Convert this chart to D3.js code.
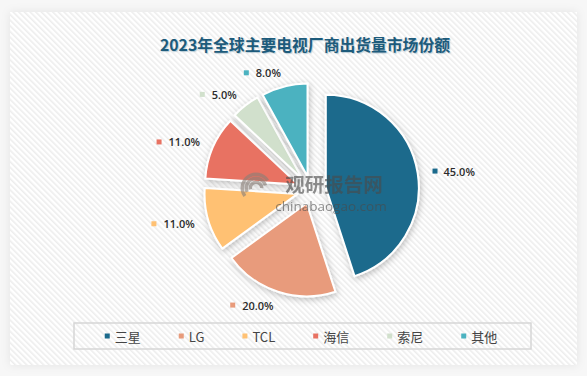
<!DOCTYPE html>
<html>
<head>
<meta charset="utf-8">
<script src="https://cdn.jsdelivr.net/npm/d3@7"></script>
<style>
  html, body { margin: 0; padding: 0; background: #f7f7f7; }
  svg { display: block; }
</style>
</head>
<body>
<svg id="chart" width="587" height="376"></svg>
<script>
// ---- data ----
const titleText = "2023年全球主要电视厂商出货量市场份额";
const categories = ["三星", "LG", "TCL", "海信", "索尼", "其他"];
const shares = [45.0, 20.0, 11.0, 11.0, 5.0, 8.0];
const colors = ["#1b6a8c", "#e89b7b", "#ffc173", "#e87262", "#d1e0cc", "#4bb2c0"];

const W = 587, H = 376;
const svg = d3.select("#chart");
const defs = svg.append("defs");

// striped background pattern
const pat = defs.append("pattern").attr("id", "stripes")
  .attr("width", 4).attr("height", 4)
  .attr("patternUnits", "userSpaceOnUse")
  .attr("patternTransform", "rotate(-45)");
pat.append("rect").attr("width", 4).attr("height", 4).attr("fill", "#ffffff");
pat.append("rect").attr("x", 0).attr("y", 0).attr("width", 1.6).attr("height", 4).attr("fill", "#ededed");

const fPanel = defs.append("filter").attr("id", "panelShadow")
  .attr("x", "-5%").attr("y", "-5%").attr("width", "110%").attr("height", "110%");
fPanel.append("feDropShadow").attr("dx", 0).attr("dy", 0).attr("stdDeviation", 5)
  .attr("flood-color", "#000").attr("flood-opacity", 0.08);

const fSlice = defs.append("filter").attr("id", "sliceShadow")
  .attr("x", "-30%").attr("y", "-30%").attr("width", "160%").attr("height", "160%");
fSlice.append("feDropShadow").attr("dx", 1).attr("dy", 2).attr("stdDeviation", 3)
  .attr("flood-color", "#000").attr("flood-opacity", 0.25);

// panel
svg.append("rect").attr("x", 10).attr("y", 12).attr("width", 567).attr("height", 353)
  .attr("fill", "url(#stripes)").attr("filter", "url(#panelShadow)");

// title
svg.append("text")
  .attr("x", 305).attr("y", 44)
  .attr("text-anchor", "middle").attr("dominant-baseline", "central")
  .attr("font-family", "'Noto Sans CJK SC', sans-serif")
  .attr("font-weight", "bold").attr("font-size", 15.8)
  .attr("fill", "#1d5b7b")
  .style("text-shadow", "1px 1px 1px rgba(120,160,180,0.5)")
  .text(titleText);

// pie
const cx = 311, cy = 190, R = 93;
const data = categories.map((c, i) => ({ name: c, value: shares[i], color: colors[i], i }));
const pie = d3.pie().sort(null).value(d => d.value).startAngle(0).endAngle(2 * Math.PI);
const arcs = pie(data);
const arcGen = d3.arc().innerRadius(0).outerRadius(R);

const gPie = svg.append("g");
arcs.forEach(a => {
  const mid = (a.startAngle + a.endAngle) / 2;
  const off = a.data.i === 0 ? 15 : 14;
  const dx = off * Math.sin(mid), dy = -off * Math.cos(mid);
  gPie.append("path")
    .attr("d", arcGen(a))
    .attr("transform", `translate(${cx + dx},${cy + dy})`)
    .attr("fill", a.data.color)
    .attr("stroke", "#ffffff").attr("stroke-width", 2)
    .attr("stroke-linejoin", "round")
    .attr("filter", "url(#sliceShadow)");
});

// labels
const labelR = 121;
const gLab = svg.append("g");
arcs.forEach(a => {
  const mid = (a.startAngle + a.endAngle) / 2;
  const ax = cx + labelR * Math.sin(mid), ay = cy - labelR * Math.cos(mid);
  const right = Math.sin(mid) > 0;
  const txt = gLab.append("text")
    .attr("y", ay).attr("dominant-baseline", "central")
    .attr("font-family", "'Open Sans', 'Liberation Sans', sans-serif")
    .attr("font-weight", 600).attr("font-size", 11)
    .attr("fill", "#2b2b2b")
    .text(d3.format(".1f")(a.data.value) + "%");
  let sqX;
  if (right) {
    sqX = ax + 2;
    txt.attr("x", sqX + 11).attr("text-anchor", "start");
  } else {
    txt.attr("x", ax).attr("text-anchor", "end");
    const w = txt.node().getComputedTextLength();
    sqX = ax - w - 12;
  }
  gLab.append("rect").attr("x", sqX).attr("y", ay - 2.5)
    .attr("width", 5).attr("height", 5).attr("fill", a.data.color);
});

// watermark
const wm = svg.append("g").attr("opacity", 0.62);
const logo = wm.append("g").attr("transform", "translate(256,188)");
[[14, -2.2, 1.0], [10, -2.0, 1.3], [6, -1.8, 1.6]].forEach(([r, s, e]) => {
  logo.append("path")
    .attr("d", d3.arc().innerRadius(r - 2).outerRadius(r + 1.5).startAngle(s).endAngle(e)())
    .attr("fill", "#8a7f78");
});
wm.append("text").attr("x", 334).attr("y", 183)
  .attr("text-anchor", "middle").attr("dominant-baseline", "central")
  .attr("font-family", "'Noto Sans CJK SC', sans-serif").attr("font-weight", "bold")
  .attr("font-size", 19.5).attr("fill", "#4a4a4a").text("观研报告网");
wm.append("text").attr("x", 331).attr("y", 206)
  .attr("text-anchor", "middle").attr("dominant-baseline", "central")
  .attr("font-family", "'Open Sans', sans-serif")
  .attr("font-size", 13.5).attr("fill", "#4a4a4a").text("chinabaogao.com");

// legend
svg.append("rect").attr("x", 74).attr("y", 323).attr("width", 457).attr("height", 26)
  .attr("fill", "none").attr("stroke", "#d6d6d6").attr("stroke-width", 1.5);
const gLeg = svg.append("g");
let lx = 0;
data.forEach(d => {
  const g = gLeg.append("g").attr("transform", `translate(${lx},0)`);
  g.append("rect").attr("x", 0).attr("y", 336 - 2.5).attr("width", 5).attr("height", 5).attr("fill", d.color);
  const t = g.append("text").attr("x", 10).attr("y", 336)
    .attr("dominant-baseline", "central")
    .attr("font-family", "'Noto Sans CJK SC', sans-serif")
    .attr("font-size", 13).attr("fill", "#444").text(d.name);
  const w = t.node().getComputedTextLength();
  lx += 10 + w + 38;
});
const totalW = lx - 38;
gLeg.attr("transform", `translate(${301 - totalW / 2},0)`);
</script>
</body>
</html>
